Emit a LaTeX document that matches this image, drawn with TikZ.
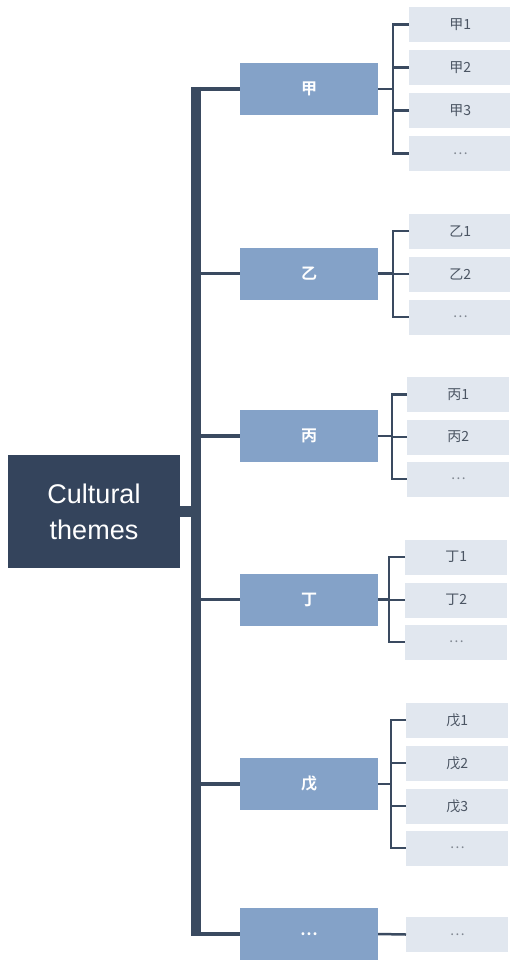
\documentclass[tikz,border=0pt]{standalone}
\usepackage{fontspec}
\setmainfont{Liberation Sans}
\newfontfamily\cjk{Noto Sans CJK SC}
\newfontfamily\cjkb{Noto Sans CJK SC Bold}
\definecolor{rootc}{HTML}{34445C}
\definecolor{lonec}{HTML}{84A2C8}
\definecolor{leafc}{HTML}{E1E7EF}
\definecolor{linec}{HTML}{3A4A60}
\definecolor{leaftxt}{HTML}{4B5563}
\tikzset{
  rootbox/.style={fill=rootc, text=white, minimum width=172pt, minimum height=113pt, inner sep=0pt, align=center, font=\fontsize{27}{36}\selectfont},
  lonebox/.style={fill=lonec, text=white, minimum width=138pt, minimum height=52pt, inner sep=0pt, font=\cjkb\fontsize{16}{18}\selectfont},
  leafbox/.style={fill=leafc, text=leaftxt, minimum width=102pt, minimum height=35pt, inner sep=0pt, anchor=west, font=\cjk\fontsize{14}{16}\selectfont},
  moreleaf/.style={leafbox, text=leaftxt!70},
  trunk/.style={draw=linec, line width=10pt},
  branch/.style={draw=linec, line width=3.5pt},
  twig/.style={draw=linec, line width=2.5pt},
}
\begin{document}
\begin{tikzpicture}[x=1pt, y=-1pt]
\useasboundingbox (0,0) rectangle (510,960);
% root
\node[rootbox] (root) at (94,511.5) {Cultural\\themes};
% level one
\node[lonebox] (a) at (309,89) {甲};
\node[lonebox] (b) at (309,273.5) {乙};
\node[lonebox] (c) at (309,436) {丙};
\node[lonebox] (d) at (309,599.5) {丁};
\node[lonebox] (e) at (309,784) {戊};
\node[lonebox] (f) at (309,934) {…};
% trunk
\coordinate (ttop) at (196,87);
\coordinate (tbot) at (196,935.5);
\coordinate (tmid) at (196,511.5);
\draw[trunk] (ttop) -- (tbot);
\draw[line width=11pt, draw=linec] (root.east) -- (tmid);
\foreach \n in {a,b,c,d,e,f} {
  \draw[branch] (\n.west) -- (\n.west -| ttop);
}
% leaves A
\node[leafbox] (a1) at (409,24.5) {甲1};
\node[leafbox] (a2) at (409,67.5) {甲2};
\node[leafbox] (a3) at (409,110.5) {甲3};
\node[moreleaf] (a4) at (409,153.5) {…};
\coordinate (ab) at (393,89);
% leaves B
\node[leafbox] (b1) at (409,231) {乙1};
\node[leafbox] (b2) at (409,274) {乙2};
\node[moreleaf] (b3) at (409,317) {…};
\coordinate (bb) at (393,273.5);
% leaves C
\node[leafbox] (c1) at (407,394.5) {丙1};
\node[leafbox] (c2) at (407,437) {丙2};
\node[moreleaf] (c3) at (407,479) {…};
\coordinate (cb) at (392,436);
% leaves D
\node[leafbox] (d1) at (405,557) {丁1};
\node[leafbox] (d2) at (405,600) {丁2};
\node[moreleaf] (d3) at (405,642) {…};
\coordinate (db) at (389,599.5);
% leaves E
\node[leafbox] (e1) at (406,720) {戊1};
\node[leafbox] (e2) at (406,763) {戊2};
\node[leafbox] (e3) at (406,806) {戊3};
\node[moreleaf] (e4) at (406,848) {…};
\coordinate (eb) at (391,784);
% leaf F
\node[moreleaf] (f1) at (406,934.5) {…};
% brackets
\draw[twig] (a.east) -- (ab);
\draw[twig] (a1.west) -| (a4.west -| ab) -- (a4.west);
\foreach \k in {2,3} { \draw[twig] (a\k.west) -- (a\k.west -| ab); }
\draw[twig] (b.east) -- (bb);
\draw[twig] (b1.west) -| (b3.west -| bb) -- (b3.west);
\draw[twig] (b2.west) -- (b2.west -| bb);
\draw[twig] (c.east) -- (cb);
\draw[twig] (c1.west) -| (c3.west -| cb) -- (c3.west);
\draw[twig] (c2.west) -- (c2.west -| cb);
\draw[twig] (d.east) -- (db);
\draw[twig] (d1.west) -| (d3.west -| db) -- (d3.west);
\draw[twig] (d2.west) -- (d2.west -| db);
\draw[twig] (e.east) -- (eb);
\draw[twig] (e1.west) -| (e4.west -| eb) -- (e4.west);
\foreach \k in {2,3} { \draw[twig] (e\k.west) -- (e\k.west -| eb); }
\draw[twig] (f.east) -- (f1.west);
\end{tikzpicture}
\end{document}
